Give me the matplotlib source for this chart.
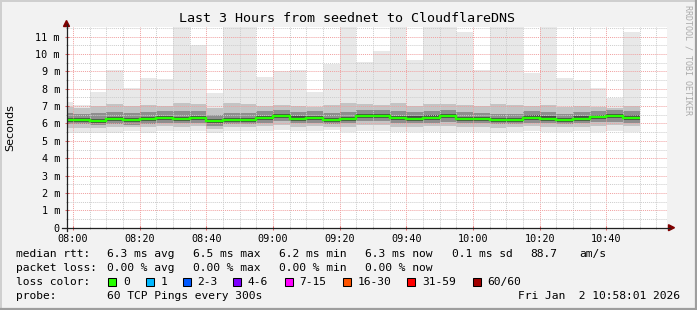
import numpy as np
import pandas as pd
import matplotlib
matplotlib.use('Agg')
import matplotlib.pyplot as plt
import matplotlib.dates as mdates
from matplotlib.ticker import MultipleLocator, FuncFormatter
from matplotlib.lines import Line2D
from matplotlib.patches import Polygon, Rectangle

W, H = 697, 310

# 5 minute steps (start of each step), first one is clipped by the graph start
bin_start = pd.date_range('2026-01-02 07:55', '2026-01-02 10:45', freq='5min')

# median rtt in ms
median_ms = [6.20, 6.20, 6.16, 6.24, 6.18, 6.24, 6.32, 6.26, 6.32, 6.13,
             6.20, 6.20, 6.32, 6.43, 6.28, 6.32, 6.20, 6.26, 6.45, 6.41,
             6.32, 6.28, 6.34, 6.41, 6.26, 6.26, 6.20, 6.20, 6.34, 6.28,
             6.20, 6.28, 6.36, 6.41, 6.34]
# smoke (ping distribution) in ms
smoke_max = [7.26, 7.07, 7.83, 9.08, 8.03, 8.60, 8.55, 12.0, 10.52, 7.78,
             12.0, 12.0, 8.70, 9.03, 9.08, 7.83, 9.41, 12.0, 9.56, 10.18,
             12.0, 9.66, 12.0, 12.0, 11.29, 9.08, 12.0, 12.0, 8.93, 12.0,
             8.60, 8.51, 8.03, 7.45, 11.29]
smoke_p90 = [6.95, 6.90, 7.00, 7.10, 7.00, 7.05, 7.00, 7.20, 7.10, 6.90,
             7.20, 7.10, 7.00, 7.05, 7.00, 6.95, 7.05, 7.20, 7.10, 7.05,
             7.15, 7.00, 7.10, 7.10, 7.05, 7.00, 7.10, 7.05, 7.00, 7.05,
             6.95, 7.00, 6.95, 6.90, 7.00]
smoke_p75 = [6.60, 6.55, 6.60, 6.65, 6.60, 6.65, 6.70, 6.70, 6.70, 6.50,
             6.60, 6.60, 6.70, 6.80, 6.65, 6.70, 6.60, 6.65, 6.80, 6.75,
             6.70, 6.65, 6.70, 6.75, 6.65, 6.60, 6.55, 6.55, 6.70, 6.65,
             6.55, 6.65, 6.70, 6.75, 6.70]
smoke_p60 = [6.32, 6.31, 6.28, 6.36, 6.30, 6.36, 6.44, 6.38, 6.44, 6.25,
             6.32, 6.32, 6.44, 6.55, 6.40, 6.44, 6.32, 6.38, 6.57, 6.53,
             6.44, 6.40, 6.46, 6.53, 6.38, 6.38, 6.32, 6.32, 6.46, 6.40,
             6.32, 6.40, 6.48, 6.53, 6.46]
smoke_p40 = [6.08, 6.08, 6.04, 6.12, 6.06, 6.12, 6.20, 6.14, 6.20, 6.01,
             6.08, 6.08, 6.20, 6.31, 6.16, 6.20, 6.08, 6.14, 6.33, 6.29,
             6.20, 6.16, 6.22, 6.29, 6.14, 6.14, 6.08, 6.08, 6.22, 6.16,
             6.08, 6.16, 6.24, 6.29, 6.22]
smoke_p25 = [5.95, 5.95, 5.90, 5.98, 5.92, 5.98, 6.05, 6.00, 6.05, 5.88,
             5.95, 5.95, 6.05, 6.15, 6.00, 6.05, 5.95, 6.00, 6.15, 6.12,
             6.05, 6.00, 6.05, 6.10, 6.00, 6.00, 5.95, 5.95, 6.05, 6.00,
             5.95, 6.00, 6.08, 6.10, 6.05]
smoke_p10 = [5.75, 5.75, 5.72, 5.80, 5.78, 5.78, 5.85, 5.80, 5.85, 5.70,
             5.80, 5.80, 5.85, 5.90, 5.80, 5.85, 5.80, 5.80, 5.90, 5.90,
             5.80, 5.80, 5.85, 5.85, 5.80, 5.80, 5.75, 5.80, 5.85, 5.80,
             5.80, 5.80, 5.85, 5.90, 5.85]
smoke_min = [5.45, 5.45, 5.45, 5.45, 5.55, 5.45, 5.55, 5.55, 5.55, 5.45,
             5.55, 5.55, 5.55, 5.60, 5.55, 5.55, 5.60, 5.50, 5.55, 5.55,
             5.50, 5.50, 5.50, 5.45, 5.50, 5.50, 5.44, 5.50, 5.55, 5.50,
             5.50, 5.55, 5.50, 5.55, 5.50]

loss_labels = ['0', '1', '2-3', '4-6', '7-15', '16-30', '31-59', '60/60']
loss_colors = ['#26ff00', '#00b8ff', '#0059ff', '#7e00ff', '#ff00ff',
               '#ff5500', '#ff0000', '#a10000']

MONO = 'DejaVu Sans Mono'


def fx(px):
    return px / W


def fy(py):
    return 1 - py / H


fig = plt.figure(figsize=(W / 100, H / 100), dpi=100, facecolor='#f2f2f2')

# 3d-ish frame around the canvas
fig.add_artist(Line2D([fx(0.5), fx(W - 1)], [fy(0.5), fy(0.5)], color='#cfcfcf', lw=1.4))
fig.add_artist(Line2D([fx(0.5), fx(0.5)], [fy(0.5), fy(H - 1)], color='#cfcfcf', lw=1.4))
fig.add_artist(Line2D([fx(W - 1), fx(W - 1)], [fy(0), fy(H - 1)], color='#9e9e9e', lw=1.6))
fig.add_artist(Line2D([fx(0), fx(W - 1)], [fy(H - 1), fy(H - 1)], color='#9e9e9e', lw=1.6))

ax = fig.add_axes([fx(66.5), fy(227.7), 600 / W, (227.7 - 27) / H])
ax.set_facecolor('white')
for s in ax.spines.values():
    s.set_visible(False)

x = mdates.date2num(bin_start)
w = 5 / 1440.0
edges = np.append(x, x[-1] + w)

# outer pairs are light, inner pairs darker (smokeping style)
layers = [
    (smoke_min, smoke_max, '#e8e8e8'),
    (smoke_p10, smoke_p90, '#c4c4c4'),
    (smoke_p25, smoke_p75, '#8e8e8e'),
    (smoke_p40, smoke_p60, '#4a4a4a'),
]
for lo, hi, col in layers:
    lo = np.array(lo)
    hi = np.array(hi)
    ax.bar(x, hi - lo, bottom=lo, width=w, align='edge', color=col,
           linewidth=0, zorder=1)

ax.stairs(median_ms, edges, baseline=None, color='#26ff00', lw=1.7, zorder=4)

t0 = mdates.date2num(pd.Timestamp('2026-01-02 07:58:01'))
t1 = mdates.date2num(pd.Timestamp('2026-01-02 10:58:01'))
ax.set_xlim(t0, t1)
ax.set_ylim(0, 11.55)

ax.xaxis.set_major_locator(mdates.MinuteLocator(byminute=[0, 20, 40]))
ax.xaxis.set_minor_locator(mdates.MinuteLocator(byminute=range(0, 60, 5)))
ax.xaxis.set_major_formatter(mdates.DateFormatter('%H:%M'))
ax.yaxis.set_major_locator(MultipleLocator(1))
ax.yaxis.set_minor_locator(MultipleLocator(0.5))
ax.yaxis.set_major_formatter(FuncFormatter(lambda v, p: '0' if v == 0 else f'{int(round(v))} m'))

ax.set_axisbelow(False)
ax.grid(which='minor', color='#cccccc', ls=(0, (1, 1)), lw=0.7)
ax.grid(which='major', color='#f0a0a0', ls=(0, (1, 1)), lw=0.7)

ax.tick_params(which='major', axis='x', length=2.5, width=0.75, color='#e06060',
               direction='inout', pad=3, labelsize=7.3)
ax.tick_params(which='minor', axis='x', length=1.5, width=0.75, color='#aaaaaa',
               direction='inout')
ax.tick_params(which='major', axis='y', length=2.5, width=0.75, color='#e06060',
               direction='inout', pad=3.5, labelsize=7.3)
ax.tick_params(which='minor', axis='y', length=1.5, width=0.75, color='#aaaaaa',
               direction='inout')
for lab in ax.get_xticklabels() + ax.get_yticklabels():
    lab.set_family(MONO)

# axes with arrows
fig.add_artist(Line2D([fx(66.5), fx(66.5)], [fy(231), fy(24)], color='#212121', lw=0.9))
fig.add_artist(Line2D([fx(62), fx(670)], [fy(227.7), fy(227.7)], color='#212121', lw=0.9))
fig.add_artist(Polygon([(fx(63.5), fy(26.5)), (fx(69.5), fy(26.5)), (fx(66.5), fy(20.5))],
                       closed=True, color='#800000', transform=fig.transFigure))
fig.add_artist(Polygon([(fx(668.5), fy(224.7)), (fx(668.5), fy(230.7)), (fx(674.5), fy(227.7))],
                       closed=True, color='#800000', transform=fig.transFigure))

fig.text(fx(347), fy(19), 'Last 3 Hours from seednet to CloudflareDNS',
         ha='center', va='center', family=MONO, size=9.6)
fig.text(fx(10), fy(128), 'Seconds', rotation=90, ha='center', va='center',
         family='DejaVu Sans', size=8)
fig.text(fx(688), fy(5), 'RRDTOOL / TOBI OETIKER', rotation=270, ha='center',
         va='top', family=MONO, size=6, color='#aaaaaa')

fs = 8.1
rows = [
    (254.3, [(16, 'median rtt:'), (107, '6.3 ms avg'), (193, '6.5 ms max'),
             (279, '6.2 ms min'), (365, '6.3 ms now'), (452, '0.1 ms sd'),
             (530, '88.7'), (579, 'am/s')]),
    (268.3, [(16, 'packet loss:'), (107, '0.00 % avg'), (193, '0.00 % max'),
             (279, '0.00 % min'), (365, '0.00 % now')]),
    (282.3, [(16, 'loss color:')]),
    (296.0, [(16, 'probe:'), (107, '60 TCP Pings every 300s')]),
]
for yy, items in rows:
    for xx, s in items:
        fig.text(fx(xx), fy(yy), s, ha='left', va='center', family=MONO, size=fs)

box_x = [108.3, 145.7, 182.7, 233.3, 285, 342.7, 407.3, 472.7]
for bx, lab, col in zip(box_x, loss_labels, loss_colors):
    fig.add_artist(Rectangle((fx(bx), fy(286.3)), 8 / W, 8 / H, facecolor=col,
                             edgecolor='black', lw=0.75, transform=fig.transFigure))
    fig.text(fx(bx + 14.5), fy(282.3), lab, ha='left', va='center', family=MONO, size=fs)

fig.text(fx(680), fy(296), 'Fri Jan  2 10:58:01 2026', ha='right', va='center',
         family=MONO, size=fs)

fig.savefig('out.png', dpi=100, facecolor=fig.get_facecolor())
